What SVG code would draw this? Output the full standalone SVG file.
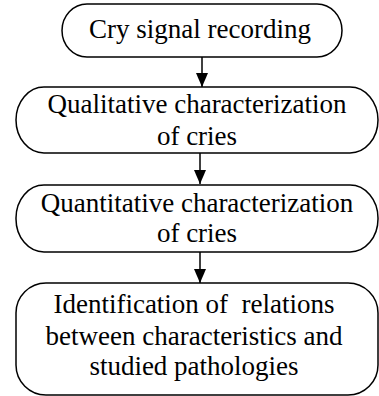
<svg xmlns="http://www.w3.org/2000/svg" width="379" height="396" viewBox="0 0 379 396">
<style>
.box{fill:#fff;stroke:#000;stroke-width:1.5}
.t{font-family:'Liberation Serif','DejaVu Serif',serif;font-size:27px;fill:#000;text-anchor:middle;white-space:pre}
.c{stroke:#000;stroke-width:1.5;fill:none}
</style>
<defs>
<marker id="ah" viewBox="0 0 14 12" refX="14" refY="6" markerWidth="14" markerHeight="12" markerUnits="userSpaceOnUse" orient="auto">
<path d="M0,0 L14,6 L0,12 Z" fill="#000"/>
</marker>
</defs>
<g id="connectors">
<line class="c" x1="202" y1="57" x2="202" y2="87" marker-end="url(#ah)"/>
<line class="c" x1="200" y1="153" x2="200" y2="184" marker-end="url(#ah)"/>
<line class="c" x1="200" y1="252" x2="200" y2="283" marker-end="url(#ah)"/>
</g>
<g id="n1">
<rect class="box" x="62" y="4" width="280" height="53" rx="25" ry="26.5"/>
<text class="t" x="200" y="38">Cry signal recording</text>
</g>
<g id="n2">
<rect class="box" x="16" y="87" width="362" height="66" rx="28" ry="33"/>
<text class="t" x="197" y="113">Qualitative characterization</text>
<text class="t" x="197" y="145">of cries</text>
</g>
<g id="n3">
<rect class="box" x="16" y="185" width="362" height="67" rx="28" ry="33"/>
<text class="t" x="197" y="212">Quantitative characterization</text>
<text class="t" x="197" y="242">of cries</text>
</g>
<g id="n4">
<rect class="box" x="16" y="283" width="362" height="112" rx="30" ry="30"/>
<text class="t" x="194" y="313">Identification of  relations</text>
<text class="t" x="194" y="345">between characteristics and</text>
<text class="t" x="194" y="375">studied pathologies</text>
</g>
</svg>
